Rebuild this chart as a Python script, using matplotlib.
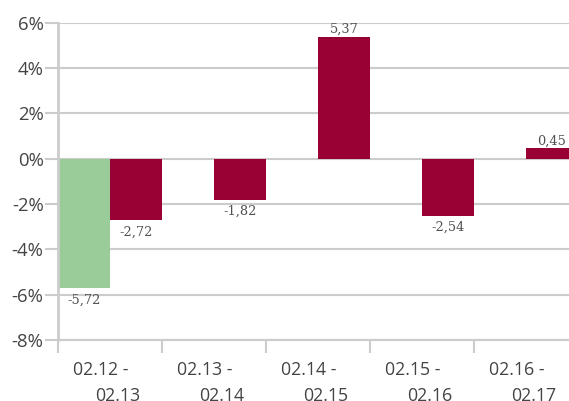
import matplotlib
matplotlib.use('Agg')
import matplotlib.pyplot as plt

# ---- data ----
line1_labels = ["02.12 -", "02.13 -", "02.14 -", "02.15 -", "02.16 -"]
line2_labels = ["02.13", "02.14", "02.15", "02.16", "02.17"]
green_values = [-5.72, None, None, None, None]
red_values = [-2.72, -1.82, 5.37, -2.54, 0.45]
y_ticks = [-8, -6, -4, -2, 0, 2, 4, 6]

GREEN = '#99cc99'
RED = '#990033'
GRID = '#cccccc'
TXT = '#444444'
PX = 0.72  # points per pixel at 100 dpi

fig = plt.figure(figsize=(5.69, 4.01), dpi=100)
ax = fig.add_axes([58 / 569, 61 / 401, 520 / 569, 317.3 / 401])

n = len(red_values)
x = list(range(n))

gx = [i - 0.25 for i, v in zip(x, green_values) if v is not None]
gv = [v for v in green_values if v is not None]
ax.bar(gx, gv, width=0.5, color=GREEN, zorder=2)
ax.bar([i + 0.25 for i in x], red_values, width=0.5, color=RED, zorder=2)

def fmt(v):
    return f"{v:.2f}".replace('.', ',')

def label(xpos, v):
    if v >= 0:
        ax.annotate(fmt(v), xy=(xpos, v), xytext=(0, 4 * PX), textcoords='offset points',
                    ha='center', va='baseline', fontsize=9.3, family='DejaVu Serif', color='#505050')
    else:
        ax.annotate(fmt(v), xy=(xpos, v), xytext=(0, -5 * PX), textcoords='offset points',
                    ha='center', va='top', fontsize=9.3, family='DejaVu Serif', color='#505050')

for xp, v in zip(gx, gv):
    label(xp, v)
for i, v in zip(x, red_values):
    label(i + 0.25, v)

ax.set_xlim(-0.5, n - 0.5)
ax.set_ylim(-8, 6)
ax.set_yticks(y_ticks)
ax.set_yticklabels([f"{t}%" for t in y_ticks], fontsize=13.3, family='Open Sans', color=TXT)
ax.set_xticks([i - 0.5 for i in x])
ax.set_xticklabels([])
ax.tick_params(axis='both', length=13 * PX, width=1.5, color=GRID, direction='out')
ax.tick_params(axis='y', pad=1)

for i in x:
    ax.annotate(line1_labels[i], xy=(i - 0.09, 0), xycoords=('data', 'axes fraction'),
                xytext=(0, -35 * PX), textcoords='offset points', ha='center', va='baseline',
                fontsize=12.8, family='Open Sans', color=TXT, annotation_clip=False)
    ax.annotate(line2_labels[i], xy=(i + 0.07, 0), xycoords=('data', 'axes fraction'),
                xytext=(0, -61 * PX), textcoords='offset points', ha='center', va='baseline',
                fontsize=12.8, family='Open Sans', color=TXT, annotation_clip=False)

ax.yaxis.grid(True, color=GRID, linewidth=1.5, zorder=0)
ax.set_axisbelow(True)
for s in ['top', 'right']:
    ax.spines[s].set_visible(False)
ax.spines['left'].set_color(GRID)
ax.spines['left'].set_linewidth(2)
ax.spines['bottom'].set_color(GRID)
ax.spines['bottom'].set_linewidth(1.5)

fig.savefig('out.png', dpi=100)
